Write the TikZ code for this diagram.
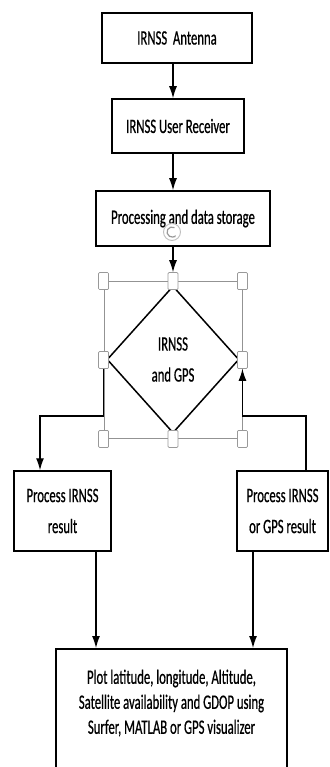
\documentclass[tikz,border=0pt]{standalone}
\usepackage{fontspec}
\setmainfont{Carlito}[FakeStretch=0.62, FakeBold=0.6]
\usetikzlibrary{shapes.geometric, arrows.meta, positioning}

\begin{document}
\begin{tikzpicture}[x=1pt, y=-1pt,
    box/.style={draw, line width=1.5pt, font=\fontsize{20.5}{25}\selectfont, align=center, inner sep=2pt},
    link/.style={line width=1.2pt, -{Latex[length=12pt, width=8pt]}},
    handle/.style={draw=gray!80, fill=white, line width=0.7pt, rounded corners=1pt, minimum width=10, minimum height=17, inner sep=0}]
    \useasboundingbox (0,0) rectangle (329,767);
    \clip (0,0) rectangle (329,767);
    % main column
    \node [box, minimum width=150, minimum height=50] (ant) at (177,38) {IRNSS~ Antenna};
    \node [box, minimum width=132, minimum height=54] (rcv) at (178,126) {IRNSS User Receiver};
    \node [box, minimum width=174, minimum height=55] (proc) at (183,218.5) {Processing and data storage};
    % decision with its selection frame
    \node [box, diamond, minimum width=132, minimum height=147, inner sep=0] (dia) at (173,359.5) {IRNSS\\[6pt]and GPS};
    \node [draw=gray!85, line width=0.9pt, minimum width=138, minimum height=157, inner sep=0] (frame) at (173,360) {};
    \foreach \a/\n in {north west/nw, north/n, north east/ne, east/e, south east/se, south/s, south west/sw, west/w}
        \node [handle] (h\n) at (frame.\a) {};
    \node [circle, draw=gray!50, fill=white, line width=0.9pt, minimum size=17, inner sep=0] (rot) at (172,232) {};
    \draw [gray!80, line width=1.2pt, -{Stealth[length=2.5pt]}] ([shift={(60:5pt)}]rot.center) arc [start angle=60, end angle=320, radius=5pt];
    % results
    \node [box, minimum width=97, minimum height=80] (lres) at (62.5,511) {Process IRNSS\\[6pt]result};
    \node [box, minimum width=91, minimum height=80] (rres) at (282.5,511) {Process IRNSS\\[6pt]or GPS result};
    \node [box, minimum width=231, minimum height=160, anchor=north] (plot) at (171.5,648) {};
    \node [font=\fontsize{20.5}{25}\selectfont, align=center] (plottxt) at ([yshift=-55pt]plot.north) {Plot latitude, longitude, Altitude,\\Satellite availability and GDOP using\\Surfer, MATLAB or GPS visualizer};
    % connectors
    \coordinate (lbend) at (40,416);
    \coordinate (rbend) at (306,416);
    \coordinate (lcol) at (96,0);
    \coordinate (rcol) at (253,0);
    \draw [link] (ant.south -| hn.north) -- (rcv.north -| hn.north);
    \draw [link] (rcv.south -| hn.north) -- (proc.north -| hn.north);
    \draw [link] (proc.south -| hn.north) -- (hn.north);
    \draw [link] (hw.south) |- (lbend) -- (lbend |- lres.north);
    \draw [link] (rres.north -| rbend) -- (rbend) -| (he.south);
    \draw [link] (lres.south -| lcol) -- (plot.north -| lcol);
    \draw [link] (rres.south -| rcol) -- (plot.north -| rcol);
\end{tikzpicture}
\end{document}
